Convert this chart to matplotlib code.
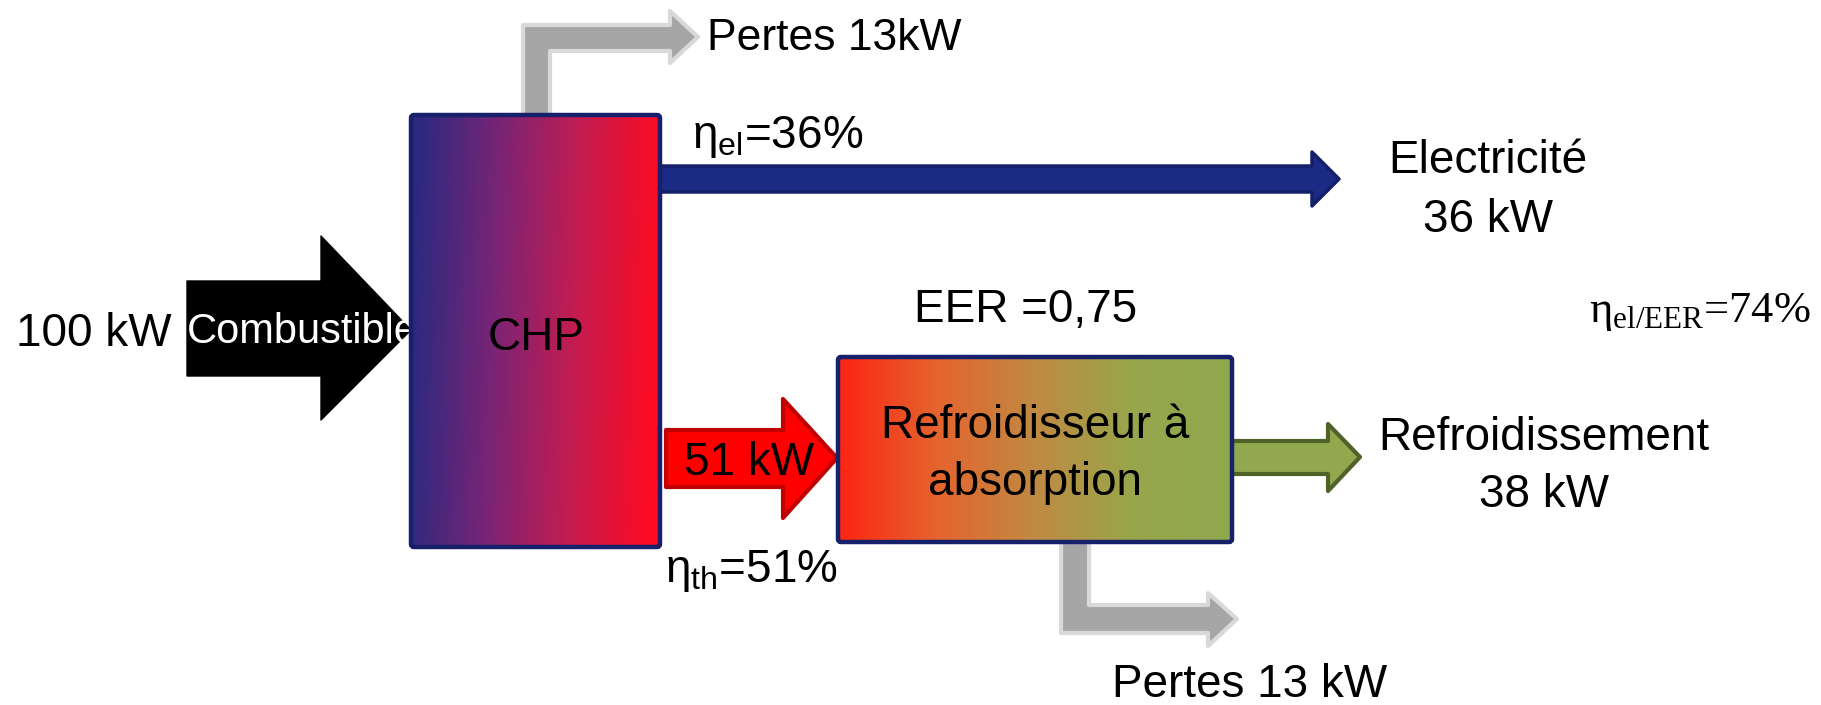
import numpy as np
import matplotlib.pyplot as plt
from matplotlib.patches import Polygon, FancyBboxPatch
from matplotlib.colors import LinearSegmentedColormap

plt.rcParams['font.family'] = ['Liberation Sans', 'DejaVu Sans']

# bilan énergétique (kW)
p_combustible = 100
p_elec = 36
p_chaleur = 51
p_froid = 38
pertes_chp = 13
pertes_froid = 13
# rendements (%)
eta_el = 36
eta_th = 51
eta_el_eer = 74
eer = 0.75

fig = plt.figure(figsize=(18.21, 7.05), dpi=100)
ax = fig.add_axes([0, 0, 1, 1])


def fleche(pts, fc, ec, lw, z=2):
    ax.add_patch(Polygon(pts, closed=True, fc=fc, ec=ec, lw=lw, joinstyle='round', zorder=z))


def degrade(x0, x1, y0, y1, couleurs, pente=0.0):
    cmap = LinearSegmentedColormap.from_list('g', couleurs)
    xx, yy = np.meshgrid(np.linspace(0, 1, 300), np.linspace(0, 1, 200))
    z = np.clip(xx + pente * (yy - 0.5), 0, 1)
    ax.imshow(z, cmap=cmap, extent=(x0, x1, y1, y0), origin='upper',
              aspect='auto', interpolation='bilinear', zorder=3)
    ax.add_patch(FancyBboxPatch((x0, y0), x1 - x0, y1 - y0,
                                boxstyle='round,pad=0,rounding_size=3',
                                fc='none', ec='#17206a', lw=3.2, zorder=4))


# pertes CHP (flèche grise vers le haut)
fleche([(523, 117), (523, 25), (670, 25), (670, 11), (698, 37), (670, 63),
        (670, 51), (550, 51), (550, 117)], '#a6a6a6', '#d9d9d9', 3, z=1)
# pertes refroidisseur (flèche grise vers le bas)
fleche([(1061, 540), (1089, 540), (1089, 605), (1208, 605), (1208, 593),
        (1237, 619), (1208, 646), (1208, 633), (1061, 633)], '#a6a6a6', '#d9d9d9', 3, z=1)

# combustible
fleche([(187, 281), (321, 281), (321, 236), (411, 330), (321, 420),
        (321, 376), (187, 376)], 'black', 'black', 1, z=1)
ax.text(187, 343, 'Combustible', color='white', fontsize=30, ha='left', va='baseline', zorder=2)
ax.text(94, 346, '%d kW' % p_combustible, fontsize=33, ha='center', va='baseline')

# électricité
fleche([(658, 166), (1312, 166), (1312, 152), (1339, 179), (1312, 206),
        (1312, 192), (658, 192)], '#1b2a84', '#14206a', 2.5)
# chaleur vers le refroidisseur
fleche([(666, 430), (783, 430), (783, 399), (837, 458), (783, 518),
        (783, 487), (666, 487)], '#ff0000', '#c00000', 3)
# froid
fleche([(1230, 441), (1328, 441), (1328, 424), (1360, 457), (1328, 491),
        (1328, 474), (1230, 474)], '#92a84e', '#4f6228', 3)

# CHP
degrade(411, 660, 115, 547, ['#2b2a80', '#7a2475', '#c51c50', '#ff0a20'], pente=0.06)
ax.text(536, 350, 'CHP', fontsize=33, ha='center', va='baseline', zorder=5)

# refroidisseur à absorption
degrade(838, 1232, 357, 542, ['#fc2412', '#e5642e', '#c08a42', '#98a64c', '#8fa84e'])
ax.text(1035, 438, 'Refroidisseur à', fontsize=33, ha='center', va='baseline', zorder=5)
ax.text(1035, 495, 'absorption', fontsize=33, ha='center', va='baseline', zorder=5)

ax.text(749, 475, '%d kW' % p_chaleur, fontsize=33, ha='center', va='baseline', zorder=5)
ax.text(1026, 322, 'EER =%s' % str(eer).replace('.', ','), fontsize=33, ha='center', va='baseline')

# étiquettes des flux
ax.text(707, 50, 'Pertes %dkW' % pertes_chp, fontsize=32, ha='left', va='baseline')
ax.text(1112, 697, 'Pertes %d kW' % pertes_froid, fontsize=33, ha='left', va='baseline')
ax.text(1488, 173, 'Electricité', fontsize=33, ha='center', va='baseline')
ax.text(1488, 232, '%d kW' % p_elec, fontsize=33, ha='center', va='baseline')
ax.text(1544, 450, 'Refroidissement', fontsize=33, ha='center', va='baseline')
ax.text(1544, 507, '%d kW' % p_froid, fontsize=33, ha='center', va='baseline')

# rendements
ax.text(692, 148, r'$\mathregular{η_{el}}$=%d%%' % eta_el, fontsize=33, ha='left', va='baseline')
ax.text(665, 582, r'$\mathregular{η_{th}}$=%d%%' % eta_th, fontsize=33, ha='left', va='baseline')
ax.text(1589, 322, r'$\mathregular{η_{el/EER}}$=%d%%' % eta_el_eer, fontsize=32,
        family=['Liberation Serif', 'DejaVu Serif'], ha='left', va='baseline')

ax.set_xlim(0, 1821)
ax.set_ylim(705, 0)
ax.axis('off')

fig.savefig('out.png', dpi=100)
